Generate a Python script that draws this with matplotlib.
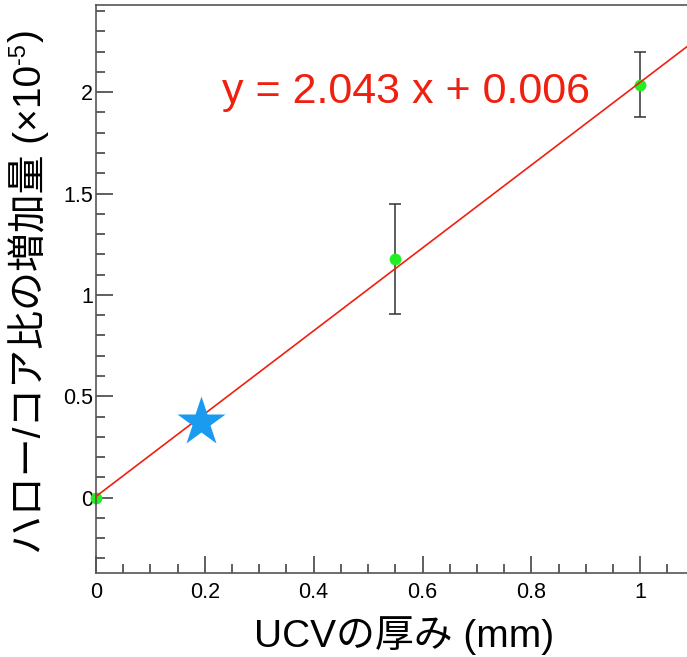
import matplotlib
matplotlib.use("Agg")
import matplotlib.pyplot as plt
import numpy as np
from matplotlib.ticker import MultipleLocator, FixedLocator

plt.rcParams['font.family'] = ['Liberation Sans', 'Noto Sans CJK JP', 'DejaVu Sans']

# data
thickness = [0.0, 0.55, 1.0]
halo_ratio = [0.0, 1.178, 2.036]
halo_err = [0.0, 0.27, 0.16]
slope = 2.043
intercept = 0.006
star_x, star_y = 0.193, 0.373
xticks = [0, 0.2, 0.4, 0.6, 0.8, 1.0]
xtick_labels = ['0', '0.2', '0.4', '0.6', '0.8', '1']
yticks = [0, 0.5, 1.0, 1.5, 2.0]
ytick_labels = ['0', '0.5', '1', '1.5', '2']

fig = plt.figure(figsize=(6.87, 6.57), dpi=100)
ax = fig.add_axes([0.1397, 0.1274, 0.8603, 0.865])

xmin, xmax = 0.0, 1.086
ymin, ymax = -0.373, 2.43
ax.set_xlim(xmin, xmax)
ax.set_ylim(ymin, ymax)

# fit line
xs = np.array([xmin, xmax])
ax.plot(xs, slope * xs + intercept, color='#f02010', lw=1.2, zorder=3)

# data points with error bars
ax.errorbar(thickness, halo_ratio, yerr=halo_err, fmt='none', ecolor='#333333',
            elinewidth=1.1, capsize=4, capthick=1.1, zorder=2)
ax.plot(thickness, halo_ratio, 'o', color='#22ee22', ms=8.5, mec='none', zorder=2.5,
        clip_on=False)

# star marker
ax.plot([star_x], [star_y], marker='*', color='#1a9bf0', ms=37, mec='none', zorder=4)

ax.text(0.232, 2.0, 'y = 2.043 x + 0.006', color='#f02010', fontsize=31,
        va='center', ha='left')

ax.xaxis.set_major_locator(FixedLocator(xticks))
ax.set_xticklabels(xtick_labels)
ax.yaxis.set_major_locator(FixedLocator(yticks))
ax.set_yticklabels(ytick_labels)
ax.xaxis.set_minor_locator(MultipleLocator(0.05))
ax.yaxis.set_minor_locator(MultipleLocator(0.1))

ax.tick_params(which='both', direction='in', colors='#444444', labelcolor='black',
               labelsize=15.5, width=1.2, top=False, right=False)
ax.tick_params(which='major', length=12)
ax.tick_params(which='minor', length=6.5)
ax.tick_params(axis='x', pad=6)
ax.tick_params(axis='y', pad=2)

for s in ['left', 'bottom', 'top']:
    ax.spines[s].set_color('#555555')
    ax.spines[s].set_linewidth(1.2)
ax.spines['right'].set_visible(False)

ax.set_xlabel('UCVの厚み (mm)', fontsize=28)
ax.xaxis.set_label_coords(0.521, -0.075)
ylab = ax.set_ylabel('ハロー/コア比の増加量 (×10', fontsize=28)
ax.yaxis.set_label_coords(-0.08, 0.465)

# superscript -5 and closing bracket after the rotated y label
fig.canvas.draw()
r = fig.canvas.get_renderer()
bb = ylab.get_window_extent(r)
sup = fig.text(bb.x0 / fig.bbox.width, bb.y1 / fig.bbox.height, '-5', fontsize=17,
               rotation=90, ha='left', va='bottom')
bb2 = sup.get_window_extent(r)
fig.text(bb.x0 / fig.bbox.width, (bb2.y1 + 2) / fig.bbox.height, ')', fontsize=28,
         rotation=90, ha='left', va='bottom')

fig.savefig('out.png', dpi=100)
